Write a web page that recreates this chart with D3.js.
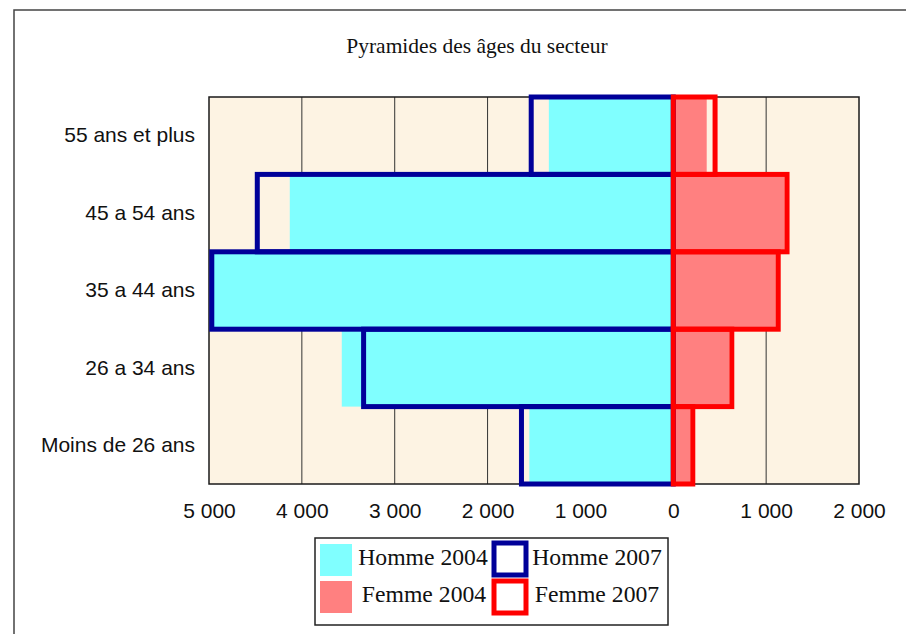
<!DOCTYPE html>
<html>
<head>
<meta charset="utf-8">
<script src="https://cdn.jsdelivr.net/npm/d3@7"></script>
<style>
  body { margin: 0; background: #ffffff; }
  svg { display: block; }
</style>
</head>
<body>
<div id="chart"></div>
<script>
// data
var categories = ['55 ans et plus', '45 a 54 ans', '35 a 44 ans', '26 a 34 ans', 'Moins de 26 ans'];
var homme2004 = [1340, 4130, 4950, 3570, 1550];
var homme2007 = [1530, 4480, 4970, 3335, 1635];
var femme2004 = [360, 1200, 1105, 600, 185];
var femme2007 = [450, 1225, 1130, 630, 210];
var tick_values = [-5000, -4000, -3000, -2000, -1000, 0, 1000, 2000];
var legend_names = ['Homme 2004', 'Femme 2004', 'Homme 2007', 'Femme 2007'];

var width = 906;
var height = 634;

var plot_left = 209, plot_right = 859;
var plot_top = 97, plot_bottom = 484;

var sans = "'Liberation Sans', Arial, sans-serif";
var serif = "'Liberation Serif', 'Times New Roman', serif";

var svg = d3.select('#chart')
  .append('svg')
    .attr('width', width)
    .attr('height', height);

svg.append('rect')
    .attr('width', width)
    .attr('height', height)
    .attr('fill', '#ffffff');

// outer frame (only left and top are inside the window)
svg.append('path')
    .attr('d', 'M14,' + height + 'V10H' + width)
    .attr('fill', 'none')
    .attr('stroke', '#444444')
    .attr('stroke-width', 1.5);

// title
svg.append('text')
    .attr('x', 477)
    .attr('y', 53)
    .attr('text-anchor', 'middle')
    .attr('font-family', serif)
    .attr('font-size', '21.5px')
    .attr('fill', '#111111')
    .text('Pyramides des âges du secteur');

var x = d3.scaleLinear()
    .domain([-5000, 2000])
    .range([plot_left, plot_right]);

var y = d3.scaleBand()
    .domain(categories)
    .range([plot_top, plot_bottom])
    .padding(0);

// plot background
svg.append('rect')
    .attr('x', plot_left)
    .attr('y', plot_top)
    .attr('width', plot_right - plot_left)
    .attr('height', plot_bottom - plot_top)
    .attr('fill', '#fdf3e3');

// vertical grid lines
svg.append('g')
    .selectAll('line.grid')
    .data(tick_values.slice(1, -1))
  .enter()
    .append('line')
    .attr('class', 'grid')
    .attr('stroke', '#333333')
    .attr('stroke-width', 1)
    .attr('x1', function(d) { return x(d); })
    .attr('x2', function(d) { return x(d); })
    .attr('y1', plot_top)
    .attr('y2', plot_bottom);

// 2004 filled bars
svg.append('g')
    .selectAll('rect.h2004')
    .data(homme2004)
  .enter()
    .append('rect')
    .attr('class', 'h2004')
    .attr('fill', '#80ffff')
    .attr('x', function(d) { return x(-d); })
    .attr('y', function(d, i) { return y(categories[i]); })
    .attr('width', function(d) { return x(0) - x(-d); })
    .attr('height', y.bandwidth());

svg.append('g')
    .selectAll('rect.f2004')
    .data(femme2004)
  .enter()
    .append('rect')
    .attr('class', 'f2004')
    .attr('fill', '#ff8080')
    .attr('x', x(0))
    .attr('y', function(d, i) { return y(categories[i]); })
    .attr('width', function(d) { return x(d) - x(0); })
    .attr('height', y.bandwidth());

// plot frame
svg.append('rect')
    .attr('x', plot_left)
    .attr('y', plot_top)
    .attr('width', plot_right - plot_left)
    .attr('height', plot_bottom - plot_top)
    .attr('fill', 'none')
    .attr('stroke', '#1a1a1a')
    .attr('stroke-width', 1.5);

// 2007 outlined bars
svg.append('g')
    .selectAll('rect.h2007')
    .data(homme2007)
  .enter()
    .append('rect')
    .attr('class', 'h2007')
    .attr('fill', 'none')
    .attr('stroke', '#000099')
    .attr('stroke-width', 5)
    .attr('x', function(d) { return x(-d); })
    .attr('y', function(d, i) { return y(categories[i]); })
    .attr('width', function(d) { return x(0) - x(-d); })
    .attr('height', y.bandwidth());

svg.append('g')
    .selectAll('rect.f2007')
    .data(femme2007)
  .enter()
    .append('rect')
    .attr('class', 'f2007')
    .attr('fill', 'none')
    .attr('stroke', '#ff0000')
    .attr('stroke-width', 5)
    .attr('x', x(0))
    .attr('y', function(d, i) { return y(categories[i]); })
    .attr('width', function(d) { return x(d) - x(0); })
    .attr('height', y.bandwidth());

// x axis labels
var fmt = function(d) {
    return d3.format(',')(Math.abs(d)).replace(/,/g, ' ');
};
var x_axis = svg.append('g')
    .attr('transform', 'translate(0,' + plot_bottom + ')')
    .call(d3.axisBottom(x).tickValues(tick_values).tickFormat(fmt).tickSize(0).tickPadding(19));
x_axis.select('.domain').remove();
x_axis.selectAll('text')
    .attr('font-family', sans)
    .attr('font-size', '21px')
    .attr('fill', '#111111');

// category labels
var y_axis = svg.append('g')
    .attr('transform', 'translate(' + plot_left + ',0)')
    .call(d3.axisLeft(y).tickSize(0).tickPadding(14));
y_axis.select('.domain').remove();
y_axis.selectAll('text')
    .attr('font-family', sans)
    .attr('font-size', '21px')
    .attr('fill', '#111111');

// legend
var legend = svg.append('g');
legend.append('rect')
    .attr('x', 315)
    .attr('y', 538)
    .attr('width', 353)
    .attr('height', 87)
    .attr('fill', '#ffffff')
    .attr('stroke', '#222222')
    .attr('stroke-width', 1.5);

var swatches = [
    {fill: '#80ffff', stroke: 'none', sw: 0, x: 320, y: 544, tx: 423, ty: 565},
    {fill: '#ff8080', stroke: 'none', sw: 0, x: 320, y: 581, tx: 424, ty: 602},
    {fill: '#ffffff', stroke: '#000099', sw: 5, x: 494, y: 543, tx: 597, ty: 565},
    {fill: '#ffffff', stroke: '#ff0000', sw: 5, x: 494, y: 581, tx: 597, ty: 602}
];

legend.selectAll('rect.swatch')
    .data(swatches)
  .enter()
    .append('rect')
    .attr('class', 'swatch')
    .attr('x', function(d) { return d.x; })
    .attr('y', function(d) { return d.y; })
    .attr('width', 32)
    .attr('height', 32)
    .attr('fill', function(d) { return d.fill; })
    .attr('stroke', function(d) { return d.stroke; })
    .attr('stroke-width', function(d) { return d.sw; });

legend.selectAll('text.legend')
    .data(swatches)
  .enter()
    .append('text')
    .attr('class', 'legend')
    .attr('x', function(d) { return d.tx; })
    .attr('y', function(d) { return d.ty; })
    .attr('text-anchor', 'middle')
    .attr('font-family', serif)
    .attr('font-size', '23.7px')
    .attr('fill', '#111111')
    .text(function(d, i) { return legend_names[i]; });
</script>
</body>
</html>
